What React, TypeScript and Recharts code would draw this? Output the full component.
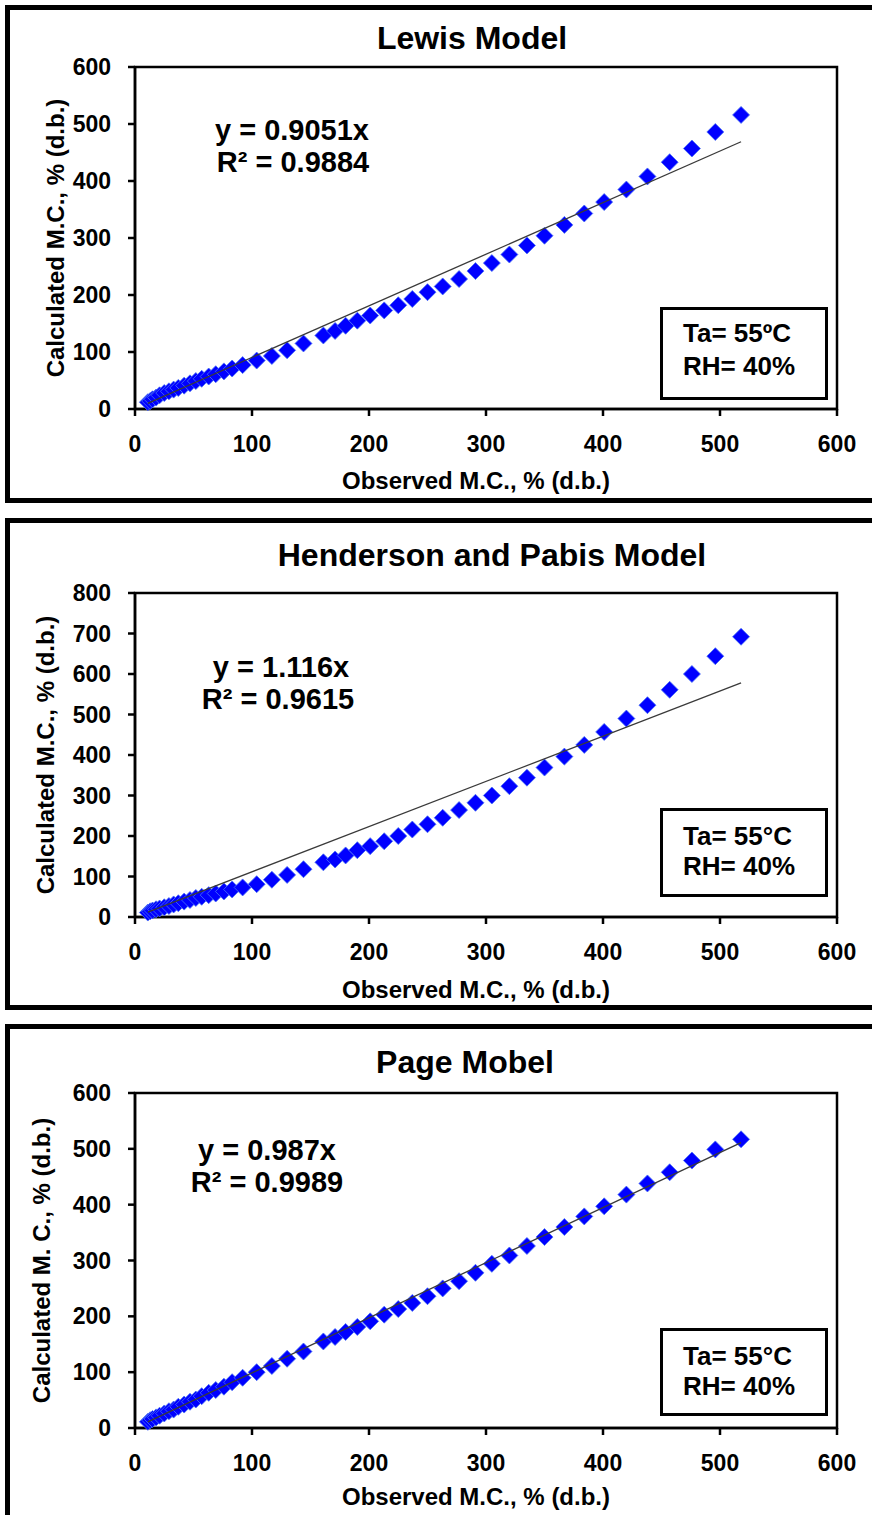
import React from "react";
import { ScatterChart, Scatter, XAxis, YAxis, ReferenceArea, Label } from "recharts";

// observed moisture content, % (d.b.) - same for the three models
const observed = [
  11, 13, 15, 18, 21, 25, 29, 33, 37, 42, 47, 52, 57, 63, 69, 76, 83, 92, 104, 117, 130, 144, 161, 171,
  180, 190, 201, 213, 225, 237, 250, 263, 277, 291, 305, 320, 335, 350, 367, 384, 401, 420, 438, 457,
  476, 496, 518,
];

const lewisCalc = [
  12, 14, 17, 20, 24, 28, 31, 34, 37, 41, 45, 49, 53, 57, 61, 66, 71, 77, 85, 93, 103, 115, 129, 137,
  146, 155, 164, 173, 182, 193, 205, 215, 228, 242, 256, 271, 287, 304, 323, 343, 363, 385, 408, 433,
  457, 486, 516,
];

const hendersonCalc = [
  11, 14, 16, 19, 21, 24, 27, 31, 34, 38, 42, 47, 50, 54, 58, 63, 68, 73, 81, 92, 104, 118, 135, 142,
  152, 165, 175, 187, 200, 216, 229, 245, 264, 282, 300, 323, 344, 369, 396, 425, 457, 490, 523, 561,
  600, 644, 692,
];

const pageCalc = [
  11, 14, 16, 19, 22, 26, 30, 33, 38, 42, 47, 51, 57, 63, 68, 74, 82, 90, 100, 111, 124, 137, 155, 163,
  172, 181, 191, 203, 213, 224, 236, 250, 263, 278, 294, 309, 326, 342, 360, 379, 397, 418, 438, 458,
  479, 499, 517,
];

const xTicks = [0, 100, 200, 300, 400, 500, 600];
const yTicks600 = [0, 100, 200, 300, 400, 500, 600];
const yTicks800 = [0, 100, 200, 300, 400, 500, 600, 700, 800];

const FONT = "'Liberation Sans', Arial, sans-serif";

const Diamond = (props: any) => {
  const { cx, cy } = props;
  if (cx == null || cy == null) return <g />;
  const r = 8.5;
  return (
    <polygon
      points={`${cx},${cy - r} ${cx + r},${cy} ${cx},${cy + r} ${cx - r},${cy}`}
      fill="#0000FF"
      stroke="#4d74f5"
      strokeWidth={0.8}
    />
  );
};

const NoDot = () => <g />;

// text placed by its baseline, in page pixels
const Txt = ({ x, base, size, align = "center", children }: any) => {
  const top = base - 0.8465 * size;
  const w = 800;
  const left = align === "center" ? x - w / 2 : x;
  return (
    <div
      style={{
        position: "absolute",
        left,
        top,
        width: w,
        textAlign: align,
        fontFamily: FONT,
        fontWeight: 700,
        fontSize: size,
        lineHeight: 1,
        color: "#000",
        whiteSpace: "nowrap",
      }}
    >
      {children}
    </div>
  );
};

interface PanelProps {
  top: number
  panelHeight: number
  chartHeight: number
  plotTop: number
  xAxisHeight: number
  xTitleOffset: number
  yTitleShift: number
  yMax: number
  yTicks: number[]
  calc: number[]
  slope: number
  yLabel: string
}

const Panel = ({ top, panelHeight, chartHeight, plotTop, xAxisHeight, xTitleOffset, yTitleShift, yMax, yTicks, calc, slope, yLabel }: PanelProps) => {
  const points = observed.map((x, i) => ({ x, y: calc[i] }));
  const first = observed[0];
  const last = observed[observed.length - 1];
  const trend = [
    { x: first, y: slope * first },
    { x: last, y: slope * last },
  ];
  const tickStyle = { fill: "#000", fontSize: 23, fontWeight: 700, fontFamily: FONT };
  const axisStroke = { stroke: "#000", strokeWidth: 2.5 };
  return (
    <>
      <div
        style={{
          position: "absolute",
          left: 5,
          top,
          width: 885,
          height: panelHeight,
          border: "5px solid #000",
          boxSizing: "border-box",
          background: "#fff",
        }}
      />
      <div style={{ position: "absolute", left: 0, top }}>
        <ScatterChart
          width={872}
          height={chartHeight}
          margin={{ top: plotTop - top, right: 35, bottom: 0, left: 0 }}
        >
          <XAxis
            type="number"
            dataKey="x"
            domain={[0, 600]}
            ticks={xTicks}
            interval={0}
            height={xAxisHeight}
            tick={tickStyle}
            tickSize={7}
            tickMargin={20}
            axisLine={axisStroke}
            tickLine={axisStroke}
          >
            <Label
              value="Observed M.C., % (d.b.)"
              position="insideBottom"
              offset={xTitleOffset}
              dx={-10}
              style={{ fontSize: 24, fontWeight: 700, fill: "#000", fontFamily: FONT }}
            />
          </XAxis>
          <YAxis
            type="number"
            dataKey="y"
            domain={[0, yMax]}
            ticks={yTicks}
            interval={0}
            width={135}
            tick={tickStyle}
            tickSize={7}
            tickMargin={17}
            axisLine={axisStroke}
            tickLine={axisStroke}
          >
            <Label
              value={yLabel}
              angle={-90}
              position="insideLeft"
              offset={45}
              dx={yTitleShift}
              style={{ fontSize: 24, fontWeight: 700, fill: "#000", fontFamily: FONT, textAnchor: "middle" }}
            />
          </YAxis>
          <ReferenceArea
            x1={0}
            x2={600}
            y1={0}
            y2={yMax}
            fill="none"
            fillOpacity={0}
            stroke="#000"
            strokeWidth={2.5}
            ifOverflow="visible"
          />
          <Scatter data={points} shape={Diamond} isAnimationActive={false} />
          <Scatter
            data={trend}
            shape={NoDot}
            line={{ stroke: "#3a3a3a", strokeWidth: 1.3 }}
            isAnimationActive={false}
          />
        </ScatterChart>
      </div>
    </>
  );
};

const Box = ({ top, bottom, lines, base }: any) => (
  <>
    <div
      style={{
        position: "absolute",
        left: 660,
        top,
        width: 168,
        height: bottom - top,
        border: "3px solid #000",
        boxSizing: "border-box",
        background: "#fff",
      }}
    />
    <Txt x={683} base={base[0]} size={26} align="left">{lines[0]}</Txt>
    <Txt x={683} base={base[1]} size={26} align="left">{lines[1]}</Txt>
  </>
);

export default function App() {
  return (
    <div style={{ position: "absolute", left: 0, top: 0, width: 872, height: 1515, overflow: "hidden", background: "#fff" }}>
      {/* Lewis */}
      <Panel
        top={5}
        panelHeight={498}
        chartHeight={497}
        plotTop={67}
        xAxisHeight={93}
        xTitleOffset={13}
        yTitleShift={10}
        yMax={600}
        yTicks={yTicks600}
        calc={lewisCalc}
        slope={0.9051}
        yLabel="Calculated M.C., % (d.b.)"
      />
      <Txt x={472} base={49.5} size={32}>Lewis Model</Txt>
      <Txt x={292} base={140.4} size={29}>y = 0.9051x</Txt>
      <Txt x={293} base={172.4} size={29}>R² = 0.9884</Txt>
      <Box top={307} bottom={400} lines={["Ta= 55ºC", "RH= 40%"]} base={[342.3, 375.3]} />

      {/* Henderson and Pabis */}
      <Panel
        top={518}
        panelHeight={492}
        chartHeight={492}
        plotTop={593}
        xAxisHeight={93}
        xTitleOffset={12}
        yTitleShift={0}
        yMax={800}
        yTicks={yTicks800}
        calc={hendersonCalc}
        slope={1.116}
        yLabel="Calculated M.C., % (d.b.)"
      />
      <Txt x={492} base={566.5} size={32}>Henderson and Pabis Model</Txt>
      <Txt x={281} base={677.4} size={29}>y = 1.116x</Txt>
      <Txt x={278} base={709.4} size={29}>R² = 0.9615</Txt>
      <Box top={808} bottom={897} lines={["Ta= 55°C", "RH= 40%"]} base={[845.3, 875.3]} />

      {/* Page */}
      <Panel
        top={1024}
        panelHeight={496}
        chartHeight={491}
        plotTop={1093}
        xAxisHeight={87}
        xTitleOffset={10}
        yTitleShift={-4}
        yMax={600}
        yTicks={yTicks600}
        calc={pageCalc}
        slope={0.987}
        yLabel="Calculated M. C., % (d.b.)"
      />
      <Txt x={465} base={1073.5} size={32}>Page Mobel</Txt>
      <Txt x={267} base={1160.4} size={29}>y = 0.987x</Txt>
      <Txt x={267} base={1192.4} size={29}>R² = 0.9989</Txt>
      <Box top={1328} bottom={1416} lines={["Ta= 55°C", "RH= 40%"]} base={[1365.3, 1395.3]} />
    </div>
  );
}
